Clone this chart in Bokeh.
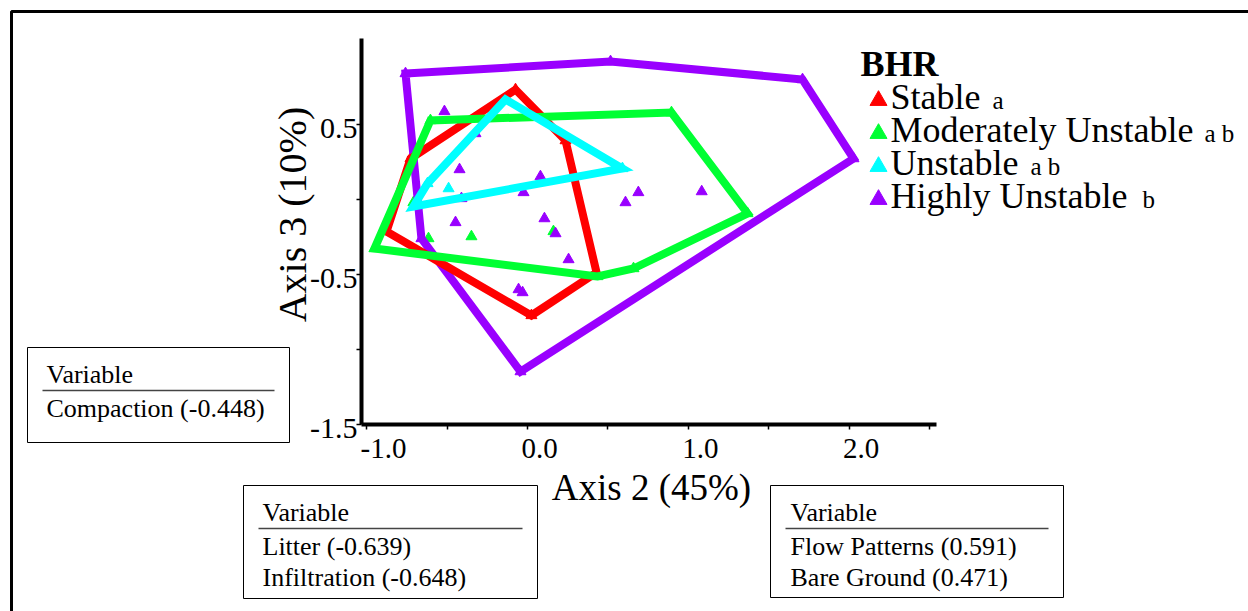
import math
from bokeh.plotting import figure
from bokeh.models import Range1d, FixedTicker, Label, BoxAnnotation, Arrow
from bokeh.embed import file_html
from bokeh.resources import INLINE

# ---------------------------------------------------------------
# NMS ordination scores (Axis 2, Axis 3) of the plots, by BHR class
# ---------------------------------------------------------------
groups = ["Stable", "Moderately Unstable", "Unstable", "Highly Unstable"]
group_letters = ["a", "a b", "a b", "b"]
colors = ["#FF0000", "#00FF33", "#00FFFF", "#9900FF"]

stable_x = [-0.876, -0.727, -0.074, 0.237, 0.430, 0.025]
stable_y = [-0.213, 0.273, 0.733, 0.393, -0.487, -0.773]

moderate_x = [-0.603, 0.896, 1.369, 0.660, 0.436, -0.951, -0.615, -0.348, 0.162, -0.709]
moderate_y = [0.527, 0.580, -0.093, -0.460, -0.513, -0.327, -0.260, -0.247, -0.213, -0.020]

unstable_x = [-0.136, 0.591, -0.709, -0.621, -0.490]
unstable_y = [0.667, 0.207, -0.047, 0.107, 0.073]

highly_x = [-0.758, 0.517, 1.711, 2.028, -0.043, -0.659, -0.516, -0.323, -0.422,
            0.081, -0.024, -0.410, -0.447, 0.106, 0.175, 0.256, -0.055, -0.030,
            0.610, 0.690, 1.084]
highly_y = [0.840, 0.920, 0.800, 0.273, -1.147, -0.260, 0.587, 0.440, 0.200,
            0.153, 0.047, 0.007, -0.153, -0.127, -0.227, -0.400, -0.600, -0.620,
            -0.020, 0.047, 0.053]

group_x = [stable_x, moderate_x, unstable_x, highly_x]
group_y = [stable_y, moderate_y, unstable_y, highly_y]

x_bounds = (-1.0317, 2.5442)
y_bounds = (-1.5, 1.0733)
x_ticks = [-1.0, -0.5, 0.0, 0.5, 1.0, 1.5, 2.0, 2.5]
x_tick_labels = {-1.0: "-1.0", 0.0: "0.0", 1.0: "1.0", 2.0: "2.0"}
y_ticks = [-1.5, -1.0, -0.5, 0.0, 0.5]
y_tick_labels = {0.5: "0.5", -0.5: "-0.5", -1.5: "-1.5"}

x_title = "Axis 2 (45%)"
y_title = "Axis 3 (10%)"
legend_title = "BHR"

# correlated variables shown in the three tables
table_header = "Variable"
table_compaction = ["Compaction (-0.448)"]
table_litter = ["Litter (-0.639)", "Infiltration (-0.648)"]
table_flow = ["Flow Patterns (0.591)", "Bare Ground (0.471)"]

# ---------------------------------------------------------------
# page geometry: the frame covers the whole page, 160.8 px per unit on
# Axis 2 and 150 px per unit on Axis 3
# ---------------------------------------------------------------
W, H = 1248, 611
X_ORIGIN_PX, X_SCALE = 526.9, 160.8
Y_ORIGIN_PX, Y_SCALE = 199.0, 150.0
SERIF = "Liberation Serif"


def dx(px):
    return (px - X_ORIGIN_PX) / X_SCALE


def dy(py):
    return (Y_ORIGIN_PX - py) / Y_SCALE


def convex_hull(xs, ys):
    pts = sorted(set(zip(xs, ys)))

    def cross(o, a, b):
        return (a[0] - o[0]) * (b[1] - o[1]) - (a[1] - o[1]) * (b[0] - o[0])

    lower, upper = [], []
    for pt in pts:
        while len(lower) >= 2 and cross(lower[-2], lower[-1], pt) <= 0:
            lower.pop()
        lower.append(pt)
    for pt in reversed(pts):
        while len(upper) >= 2 and cross(upper[-2], upper[-1], pt) <= 0:
            upper.pop()
        upper.append(pt)
    hull = lower[:-1] + upper[:-1]
    return [h[0] for h in hull], [h[1] for h in hull]


def text(x, y, s, size, align="left", bold=False, angle=0.0):
    p.add_layout(Label(x=x, y=y, text=s, text_align=align, text_baseline="middle",
                       text_font=SERIF, text_font_size=f"{size}px",
                       text_font_style="bold" if bold else "normal",
                       text_color="black", angle=angle))


p = figure(width=W, height=H, x_range=Range1d(dx(0), dx(W)), y_range=Range1d(dy(H), dy(0)),
           min_border=0, output_backend="svg", toolbar_location=None)
p.grid.visible = False
p.outline_line_color = None
p.background_fill_color = "white"
p.border_fill_color = "white"

# axes sit at the corner of the ordination window
p.xaxis.fixed_location = y_bounds[0]
p.xaxis.bounds = x_bounds
p.yaxis.fixed_location = x_bounds[0]
p.yaxis.bounds = y_bounds
for ax, ticks in ((p.xaxis, x_ticks), (p.yaxis, y_ticks)):
    ax.ticker = FixedTicker(ticks=ticks)
    ax.axis_line_width = 4
    ax.axis_line_color = "black"
    ax.major_tick_in = 0
    ax.major_tick_out = 5
    ax.major_tick_line_width = 1.5
    ax.minor_tick_line_color = None
    ax.major_label_text_color = None
    ax.major_label_text_font_size = "1px"

# plot points (drawn first, hull outlines go over them)
for gx, gy, c in zip(group_x, group_y, colors):
    p.scatter(gx, gy, marker="triangle", size=11, fill_color=c, line_color=c)

# convex hull of each class
for i in (3, 0, 1, 2):
    hx, hy = convex_hull(group_x[i], group_y[i])
    p.patch(hx, hy, fill_color=None, line_color=colors[i], line_width=8,
            line_join="miter")

# tick labels (left-aligned under the tick on Axis 2)
for t, s in x_tick_labels.items():
    p.add_layout(Label(x=t, y=dy(448), x_offset=-6, text=s, text_align="left",
                       text_baseline="middle", text_font=SERIF,
                       text_font_size="29px", text_color="black"))
for t, s in y_tick_labels.items():
    p.add_layout(Label(x=dx(357), y=t, y_offset=-4, text=s, text_align="right",
                       text_baseline="middle", text_font=SERIF,
                       text_font_size="30px", text_color="black"))

# axis titles
text(dx(651), dy(487), x_title, 37, align="center")
text(dx(292), dy(214), y_title, 40, align="center", angle=math.pi / 2)

# legend: title, keys, class names and the letter groupings
text(dx(860), dy(63), legend_title, 36, bold=True)
row_base = [108, 141, 174, 207]
p.scatter([dx(878)] * 4, [dy(b - 8) for b in row_base], marker="triangle", size=17,
          fill_color=colors, line_color=colors)
for g, b in zip(groups, row_base):
    text(dx(890), dy(b - 12), g, 36)
for letters, lx, b in zip(group_letters, [992, 1204, 1030, 1142], row_base):
    text(dx(lx), dy(b - 8.4), letters, 25)

# outer frame
p.add_layout(BoxAnnotation(left=dx(11), right=dx(1400), top=dy(11), bottom=dy(800),
                           fill_color=None, line_color="black", line_alpha=1.0,
                           line_width=3))


# variable tables
def table(left, right, top, bottom, rule_y, rows, text_x, row_ys):
    p.add_layout(BoxAnnotation(left=dx(left), right=dx(right), top=dy(top),
                               bottom=dy(bottom), fill_color=None,
                               line_color="black", line_alpha=1.0, line_width=1))
    p.add_layout(Arrow(end=None, x_start=dx(left + 15), y_start=dy(rule_y),
                       x_end=dx(right - 15), y_end=dy(rule_y),
                       line_color="#444444", line_width=1.5))
    for s, ry in zip(rows, row_ys):
        text(dx(text_x), dy(ry), s, 26)


table(27, 289, 347, 442, 390, [table_header] + table_compaction, 46, [374, 408])
table(243, 537, 485, 598, 528, [table_header] + table_litter, 262, [512, 546, 577])
table(770, 1063, 485, 597, 528, [table_header] + table_flow, 790, [512, 546, 577])

open("out.html", "w").write(file_html(p, INLINE))
